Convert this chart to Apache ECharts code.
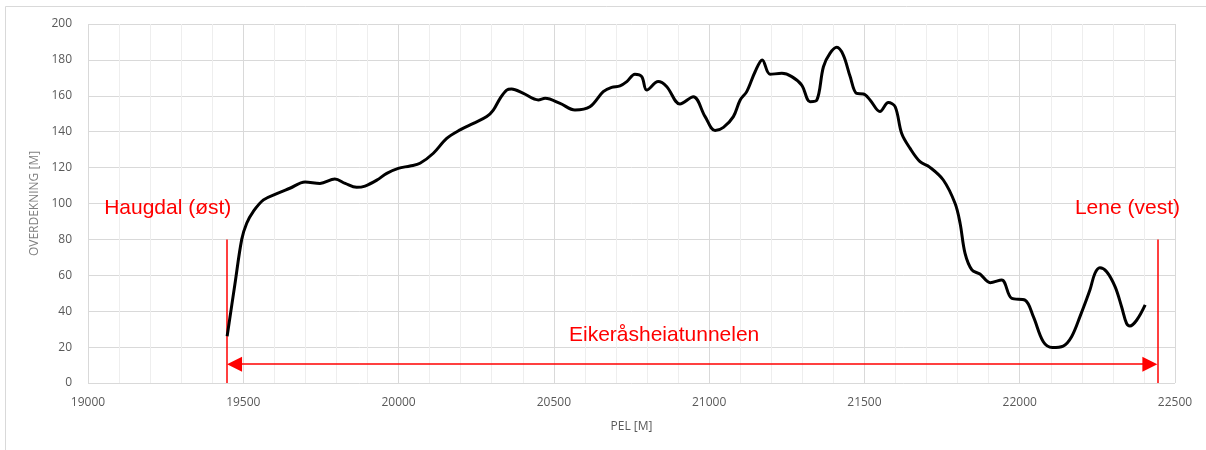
<!DOCTYPE html>
<html>
<head>
<meta charset="utf-8">
<title>Overdekning Eikeråsheiatunnelen</title>
<script src="https://cdn.jsdelivr.net/npm/echarts@6/dist/echarts.min.js"></script>
<style>
  html, body { margin: 0; padding: 0; background: #fff; }
  #chart { width: 1206px; height: 450px; }
</style>
</head>
<body>
<div id="chart"></div>
<script>
// pel [m] langs linja
const pel = [
  19448, 19473, 19495, 19511, 19532, 19565, 19608, 19650, 19699, 19747,
  19795, 19828, 19865, 19892, 19930, 19962, 19999, 20037, 20069, 20112,
  20155, 20198, 20241, 20284, 20305, 20327, 20348, 20364, 20402, 20450,
  20472, 20520, 20568, 20616, 20659, 20686, 20713, 20735, 20761, 20783,
  20799, 20836, 20863, 20906, 20949, 20987, 21019, 21046, 21078, 21100,
  21121, 21148, 21171, 21196, 21234, 21266, 21298, 21325, 21347, 21368,
  21389, 21411, 21432, 21454, 21475, 21497, 21518, 21550, 21577, 21599,
  21620, 21647, 21679, 21710, 21754, 21792, 21808, 21824, 21846, 21872,
  21905, 21942, 21974, 22017, 22044, 22076, 22105, 22140, 22167, 22194,
  22226, 22242, 22258, 22280, 22307, 22328, 22344, 22355, 22377, 22404
];

// overdekning [m]
const overdekning = [
  26, 55, 80, 89, 95.5, 102, 105.5, 108.5, 112, 111.2,
  113.6, 111.2, 109, 109.7, 113, 116.8, 119.6, 120.9, 122.4, 128,
  136.3, 141, 144.6, 148.4, 152, 158.6, 163.2, 163.8, 161.3, 157.7,
  158.6, 155.8, 152.1, 153.9, 162.3, 164.7, 165.5, 167.9, 172, 170.7,
  163.2, 167.9, 165.2, 155.4, 159.5, 148.4, 140.6, 142.4, 148.4, 157.7,
  162.3, 173.4, 180, 172, 172.5, 170.7, 166, 156.7, 157.7, 176.2,
  183.6, 187, 182.7, 170.7, 161.3, 161, 157.7, 151.2, 156.2, 153.9,
  139, 130.7, 123.3, 120.3, 113.1, 100, 89, 72.2, 63, 60.7,
  55.9, 57.4, 47.2, 46.2, 37, 23, 19.8, 20.6, 25.8, 37,
  51.8, 61, 64.2, 62, 53.7, 42.5, 33.2, 31.8, 35.1, 43.5
];

// tunnelpåhugg og pil
const tunnelStart = 19448;
const tunnelEnd = 22443;
const portalHeight = 80;
const arrowLevel = 10.5;
const arrowInset = 24;   // halve pilhodet, i pel-meter

const xRange = [19000, 22500, 500];
const yRange = [0, 200, 20];

const axisText = { color: '#595959', fontFamily: 'Open Sans', fontSize: 12 };
const redText = { fill: '#ff0000', fontFamily: 'Liberation Sans', fontSize: 21 };

const chart = echarts.init(document.getElementById('chart'), null, { renderer: 'canvas' });

chart.setOption({
  animation: false,
  backgroundColor: '#fff',
  grid: { left: 88, top: 24, right: 31, bottom: 67, containLabel: false },
  xAxis: {
    type: 'value',
    min: xRange[0],
    max: xRange[1],
    interval: xRange[2],
    name: 'PEL [M]',
    nameLocation: 'middle',
    nameGap: 38,
    nameTextStyle: axisText,
    axisLine: { show: false },
    axisTick: { show: false },
    axisLabel: Object.assign({ margin: 14, formatter: (v) => String(v) }, axisText),
    splitLine: { show: true, lineStyle: { color: '#d9d9d9', width: 1 } },
    minorTick: { show: false, splitNumber: 5 },
    minorSplitLine: { show: true, lineStyle: { color: '#eeeeee', width: 1 } }
  },
  yAxis: {
    type: 'value',
    min: yRange[0],
    max: yRange[1],
    interval: yRange[2],
    name: 'OVERDEKNING [M]',
    nameLocation: 'middle',
    nameGap: 46,
    nameTextStyle: { color: '#7f7f7f', fontFamily: 'Open Sans', fontSize: 12 },
    axisLine: { show: false },
    axisTick: { show: false },
    axisLabel: Object.assign({ margin: 16 }, axisText),
    splitLine: { show: true, lineStyle: { color: '#d9d9d9', width: 1 } }
  },
  series: [
    {
      name: 'Overdekning',
      type: 'line',
      data: pel.map((p, i) => [p, overdekning[i]]),
      smooth: 0.35,
      showSymbol: false,
      lineStyle: { color: '#000', width: 3 },
      z: 5
    },
    {
      name: 'Påhugg',
      type: 'line',
      data: [],
      markLine: {
        silent: true,
        symbol: 'none',
        label: { show: false },
        lineStyle: { color: '#ff0000', width: 1.5, type: 'solid' },
        data: [
          [{ coord: [tunnelStart, 0] }, { coord: [tunnelStart, portalHeight] }],
          [{ coord: [tunnelEnd, 0] }, { coord: [tunnelEnd, portalHeight] }]
        ]
      }
    },
    {
      name: 'Tunnel',
      type: 'line',
      data: [],
      markLine: {
        silent: true,
        symbol: ['triangle', 'triangle'],
        symbolSize: [15, 15],
        label: { show: false },
        lineStyle: { color: '#ff0000', width: 1.6, type: 'solid' },
        itemStyle: { color: '#ff0000' },
        data: [
          [{ coord: [tunnelStart + arrowInset, arrowLevel] }, { coord: [tunnelEnd - arrowInset, arrowLevel] }]
        ]
      }
    }
  ]
});

// tekstene plasseres i datakoordinater
const toPx = (x, y) => chart.convertToPixel({ gridIndex: 0 }, [x, y]);
const pHaugdal = toPx(19052, 97.5);
const pLene = toPx(22516, 97.5);
const pTunnel = toPx(20855, 26.5);

chart.setOption({
  graphic: [
    {
      type: 'rect',
      silent: true,
      shape: { x: 5.5, y: 6.5, width: 1220, height: 460 },
      style: { fill: 'none', stroke: '#d9d9d9', lineWidth: 1 }
    },
    {
      type: 'text', x: pHaugdal[0], y: pHaugdal[1],
      style: Object.assign({ text: 'Haugdal (øst)', textAlign: 'left', textVerticalAlign: 'middle' }, redText)
    },
    {
      type: 'text', x: pLene[0], y: pLene[1],
      style: Object.assign({ text: 'Lene (vest)', textAlign: 'right', textVerticalAlign: 'middle' }, redText)
    },
    {
      type: 'text', x: pTunnel[0], y: pTunnel[1],
      style: Object.assign({ text: 'Eikeråsheiatunnelen', textAlign: 'center', textVerticalAlign: 'middle' }, redText)
    }
  ]
});
</script>
</body>
</html>
